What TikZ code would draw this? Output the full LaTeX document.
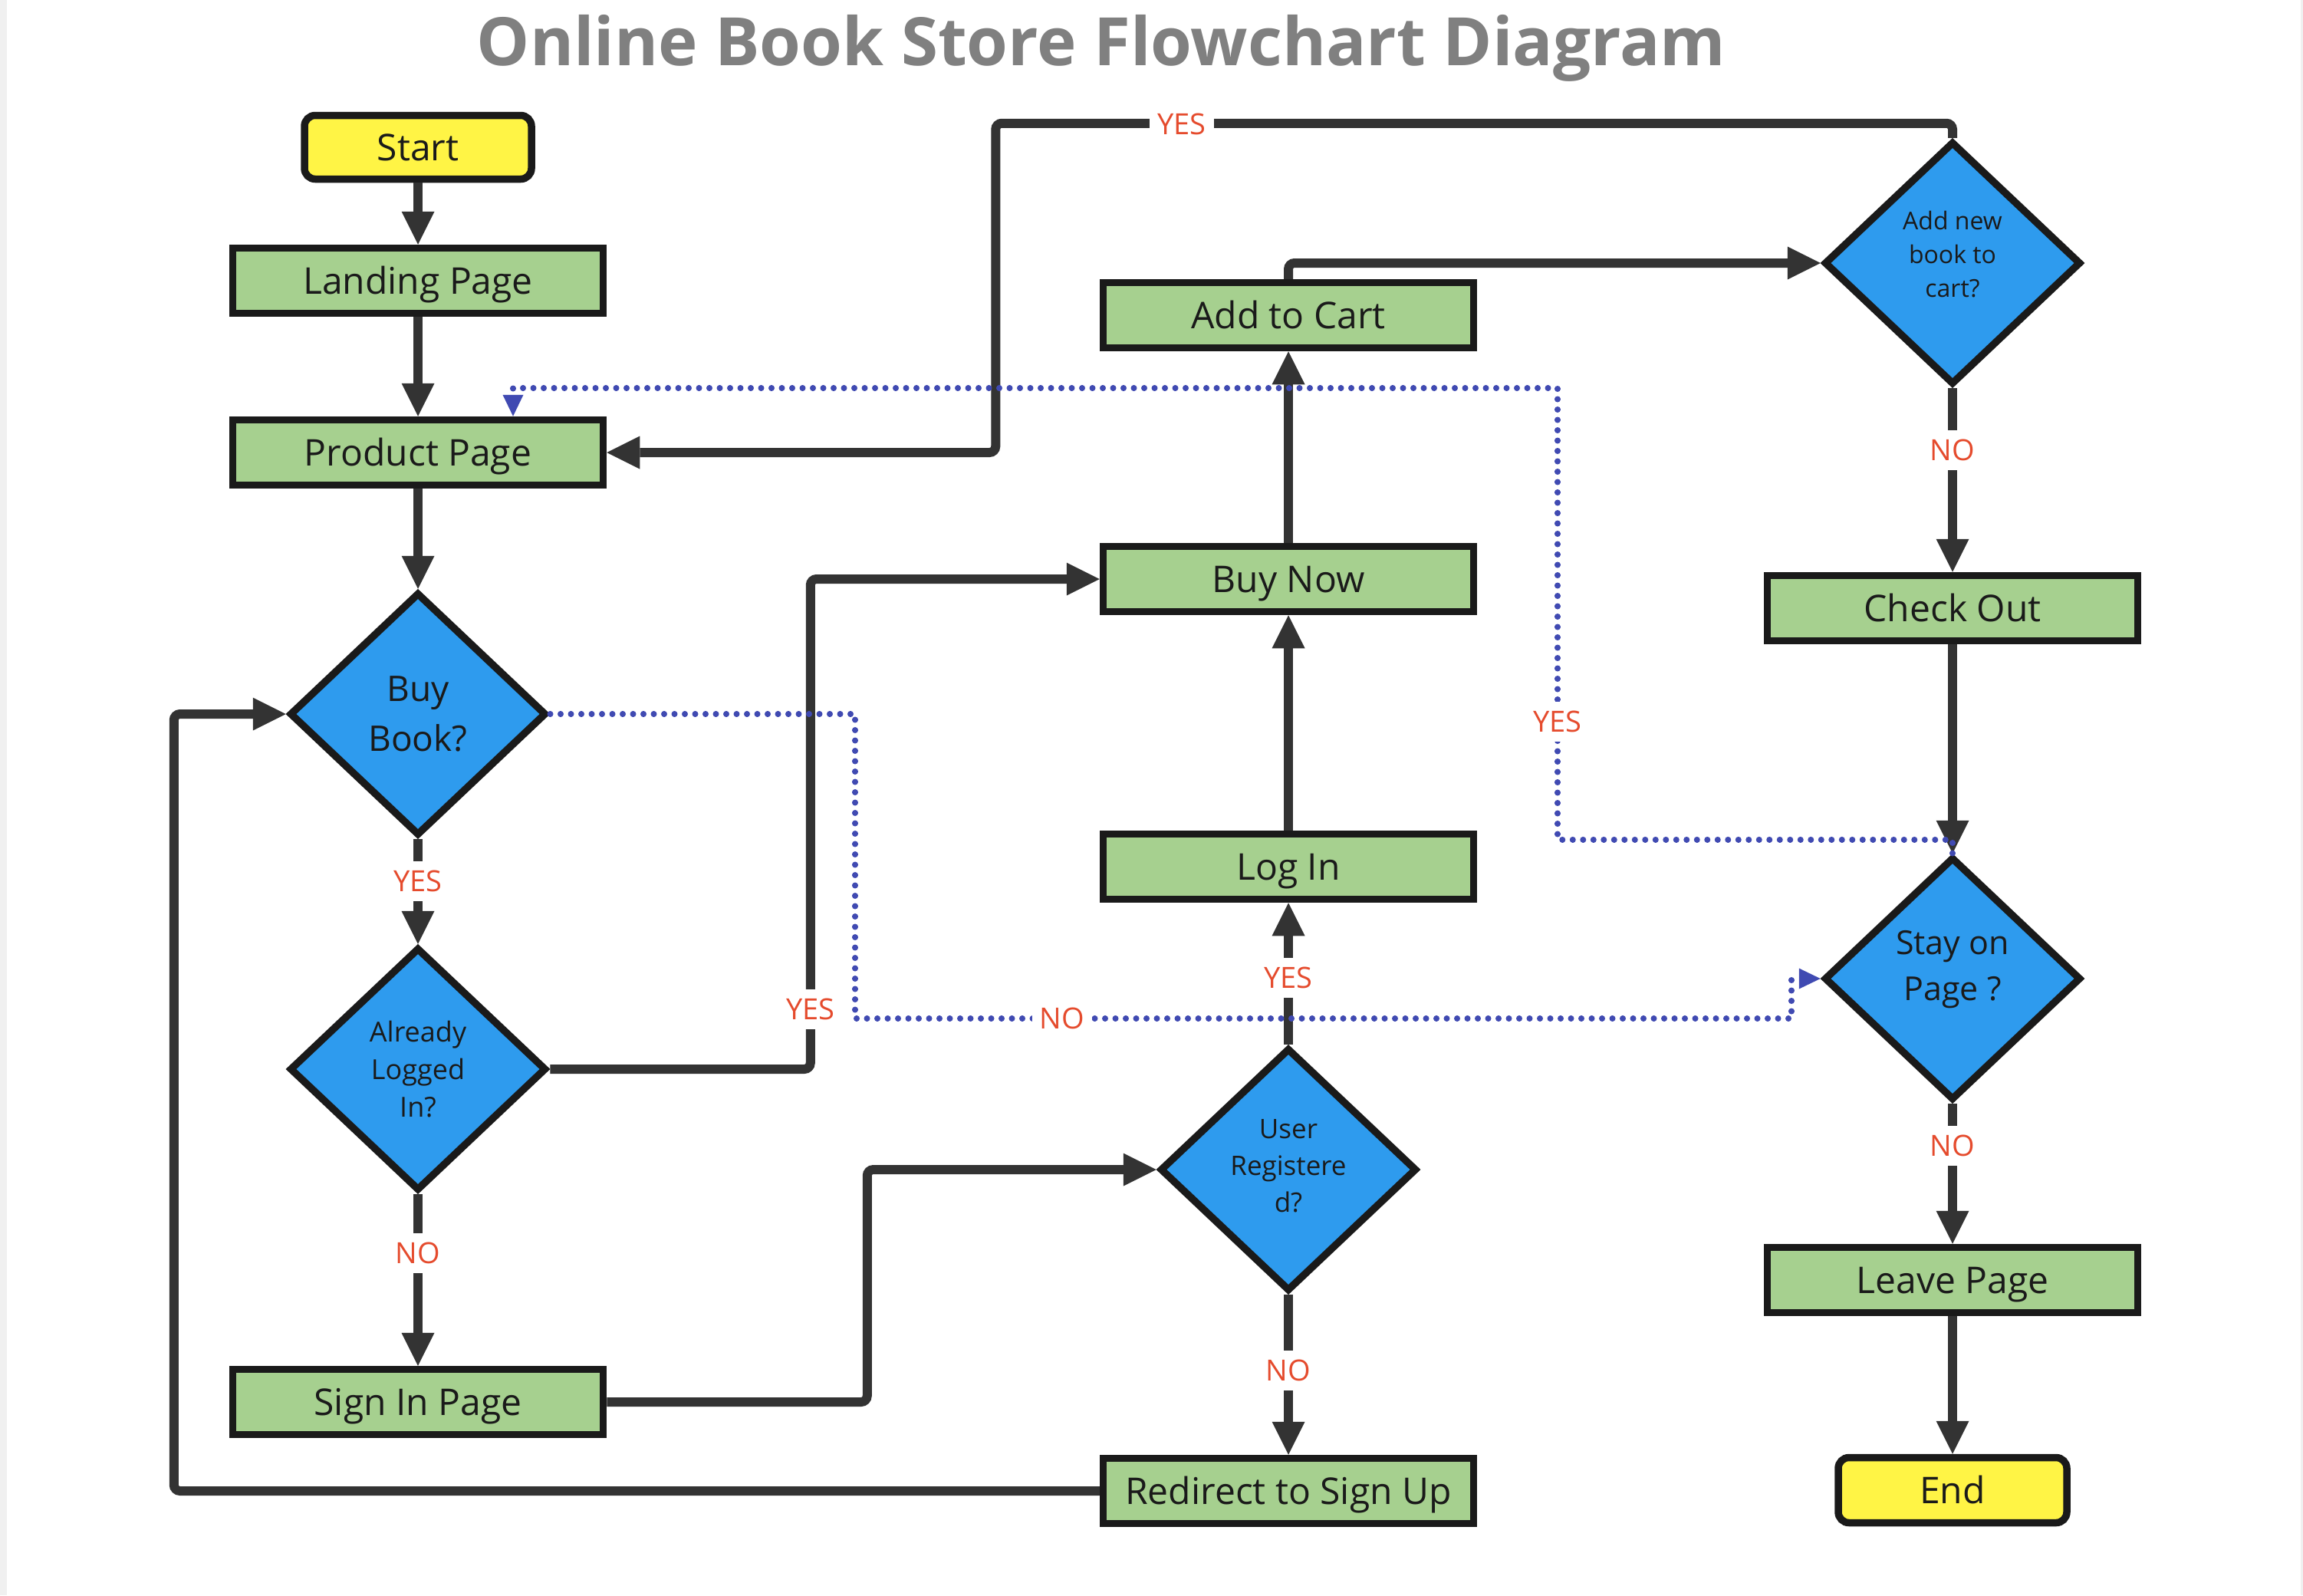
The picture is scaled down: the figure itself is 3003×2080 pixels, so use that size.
\documentclass[tikz,border=0pt]{standalone}
\usepackage{fontspec}
\setmainfont{Open Sans}
\usetikzlibrary{shapes.geometric,arrows.meta,calc}
\definecolor{boxgreen}{RGB}{166,208,143}
\definecolor{dblue}{RGB}{46,155,238}
\definecolor{syellow}{RGB}{255,244,69}
\definecolor{bord}{RGB}{26,26,26}
\definecolor{cline}{RGB}{51,51,51}
\definecolor{lred}{RGB}{229,75,45}
\definecolor{dotc}{RGB}{64,74,178}
\definecolor{tgray}{RGB}{128,128,128}
\definecolor{edgegray}{RGB}{240,240,240}
\begin{document}
\begin{tikzpicture}[x=1pt,y=-1pt,
 base/.style={draw=bord, line width=9.5pt, text=bord, inner sep=0pt},
 proc/.style={base, rectangle, fill=boxgreen, minimum width=483pt, minimum height=85pt, font=\fontsize{48}{64}\selectfont, text height=35pt, text depth=0pt},
 term/.style={base, rectangle, rounded corners=14pt, fill=syellow, minimum width=296pt, minimum height=83pt, font=\fontsize{48}{64}\selectfont, text height=35pt, text depth=0pt},
 dec/.style={base, diamond, aspect=1, fill=dblue, minimum width=335pt, minimum height=317pt, align=center, inner sep=-20pt},
 dtext/.style={text=bord, align=center, inner sep=0pt},
 conn/.style={draw=cline, line width=12pt, rounded corners=8pt, -{Triangle[length=43pt,width=43pt,line width=0pt]}},
 dotconn/.style={draw=dotc, line width=7.5pt, line cap=round, dash pattern=on 0.5pt off 13pt, -{Triangle[length=28pt,width=27pt,line width=0pt]}},
 lbl/.style={fill=white, text=lred, font=\fontsize{38}{46}\selectfont, inner xsep=10pt, inner ysep=12pt}
]
\useasboundingbox (0,0) rectangle (3003,2080);
\fill[white] (0,0) rectangle (3003,2080);
\fill[edgegray] (0,0) rectangle (9,2080);
\fill[edgegray] (3000,0) rectangle (3003,2080);

\node[font=\fontsize{87}{100}\selectfont\bfseries, text=tgray, anchor=base] (title) at (1436,85) {Online Book Store Flowchart Diagram};

% column 1
\node[term] (start) at (545,192) {Start};
\node[proc] (land) at (545,366) {Landing Page};
\node[proc] (prod) at (545,590) {Product Page};
\node[dec, font=\fontsize{46}{65}\selectfont] (bb) at (545,931) {Buy\\Book?};
\node[dec, font=\fontsize{36}{49}\selectfont] (alr) at (545,1394) {Already\\Logged\\In?};
\node[proc] (sign) at (545,1828) {Sign In Page};
% column 2
\node[proc] (cart) at (1680,411) {Add to Cart};
\node[proc] (buy) at (1680,755) {Buy Now};
\node[proc] (login) at (1680,1130) {Log In};
\node[dec] (ureg) at (1680,1525) {};
\node[dtext, font=\fontsize{35}{48}\selectfont] (uregt) at ($(ureg)+(0,-5)$) {User\\Registere\\d?};
\node[proc] (redir) at (1680,1944) {Redirect to Sign Up};
% column 3
\node[dec] (addq) at (2546,343) {};
\node[dtext, font=\fontsize{32}{44}\selectfont] (addqt) at ($(addq)+(0,-11)$) {Add new\\book to\\cart?};
\node[proc] (check) at (2546,793) {Check Out};
\node[dec] (stay) at (2546,1276) {};
\node[dtext, font=\fontsize{43}{60}\selectfont] (stayt) at ($(stay)+(0,-12)$) {Stay on\\Page ?};
\node[proc] (leave) at (2546,1669) {Leave Page};
\node[term, minimum width=298pt, minimum height=85pt] (end) at (2546,1943) {End};

% helper coordinates
\coordinate (c1) at ($(buy.west)+(-377,0)$);
\coordinate (c2) at ($(ureg.west)+(-377,0)$);
\coordinate (c3) at ($(bb.west)+(-146,0)$);
\coordinate (c4) at ($(prod.east)+(507,0)$);
\coordinate (dA1) at (1115,1328);
\coordinate (dA2) at (2336,1328);
\coordinate (dB1) at (2031,506);
\coordinate (dB2) at ($(prod.north)+(124,0)$);

% solid connectors
\draw[conn] (start.south) -- (land.north);
\draw[conn] (land.south) -- (prod.north);
\draw[conn] (prod.south) -- (bb.north);
\draw[conn] (bb.south) -- (alr.north);
\draw[conn] (alr.south) -- (sign.north);
\draw[conn] (alr.east) -| (c1) -- (buy.west);
\draw[conn] (sign.east) -| (c2) -- (ureg.west);
\draw[conn] (ureg.north) -- (login.south);
\draw[conn] (ureg.south) -- (redir.north);
\draw[conn] (login.north) -- (buy.south);
\draw[conn] (buy.north) -- (cart.south);
\draw[conn] (redir.west) -| (c3) -- (bb.west);
\draw[conn] (cart.north) |- (addq.west);
\draw[conn] (addq.north) -- ++(0,-19) -| (c4) -- (prod.east);
\draw[conn] (addq.south) -- (check.north);
\draw[conn] (check.south) -- (stay.north);
\draw[conn] (stay.south) -- (leave.north);
\draw[conn] (leave.south) -- (end.north);

% dotted connectors
\draw[dotconn] (bb.east) -| (dA1) -- (dA2) |- (stay.west);
\draw[dotconn] (stay.north) -- ++(0,-18) -| (dB1) -| (dB2);

% labels
\node[lbl] (l1) at (545,1149) {YES};
\node[lbl] (l2) at (545,1634) {NO};
\node[lbl] (l3) at (1057,1316) {YES};
\node[lbl] (l4) at (1385,1328) {NO};
\node[lbl] (l5) at (1680,1275) {YES};
\node[lbl] (l6) at (1680,1787) {NO};
\node[lbl] (l7) at (1541,162) {YES};
\node[lbl] (l8) at (2546,587) {NO};
\node[lbl] (l9) at (2031,941) {YES};
\node[lbl] (l10) at (2546,1494) {NO};
\end{tikzpicture}
\end{document}
